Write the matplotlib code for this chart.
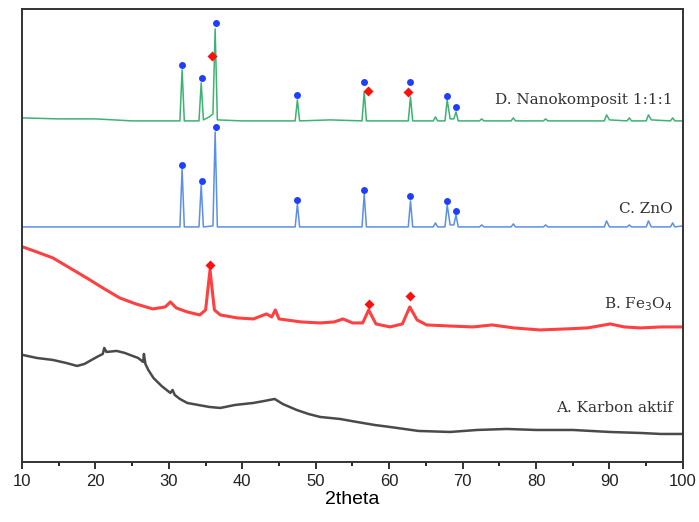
import matplotlib.pyplot as plt

# 2theta / stacked intensity (a.u., offsets included)
a_x = [10.1, 12, 14.2, 16, 17.5, 18.5, 20.2, 21.0, 21.2, 21.5, 22.9, 24, 24.7, 25.8, 26.5, 26.6, 26.8,
       27.2, 27.9, 29, 30.2, 30.5, 30.8, 31.5, 32.5, 34, 35.5, 37, 39, 41.5, 43, 44.4, 45.5,
       47.4, 49, 50.6, 53.3, 55.6, 58, 60.1, 64, 68.3, 72, 76, 80, 85, 90, 94.2, 97, 100]
a_y = [107, 104, 102, 99, 96, 98, 105, 108, 114, 110, 111, 109, 107, 104, 100, 108, 98,
       92, 84, 76, 69, 72, 67, 63, 59, 57, 55, 54, 57, 59, 61, 63, 58,
       52, 48, 45, 43, 40, 37, 35, 31, 30, 32, 33, 32, 32, 30, 29, 28, 28]

b_x = [10.1, 12, 14.2, 16.5, 18.8, 21, 23.3, 25.5, 27.8, 29.5, 30.2, 31, 32.5, 34.2, 35.0, 35.6,
       36.2, 37, 39.3, 41.5, 43.3, 44.0, 44.5, 45, 46, 48, 50.6, 52.5, 53.7, 55, 56.4, 57.2,
       58.2, 60.1, 61.8, 62.8, 63.8, 65.1, 68, 71.4, 74, 77, 80.5, 84, 87, 90.1, 92, 94.2, 97, 100]
b_y = [215, 210, 204, 194, 184, 174, 164, 158, 153, 155, 160, 154, 150, 147, 152, 192,
       152, 147, 144, 143, 148, 145, 152, 143, 142, 140, 139, 140, 143, 139, 139, 152,
       138, 135, 138, 155, 142, 137, 136, 135, 137, 134, 132, 133, 134, 138, 135, 134, 135, 135]

c_x = [10, 20, 31.5, 31.8, 32.1, 34.1, 34.4, 34.7, 36.0, 36.3, 36.6, 47.2, 47.5, 47.8, 56.3, 56.6,
       56.9, 62.6, 62.9, 63.2, 66.0, 66.3, 66.6, 67.6, 67.9, 68.3, 68.8, 69.1, 69.4, 72.3, 72.6,
       72.9, 76.6, 76.9, 77.2, 81.0, 81.3, 81.6, 89.3, 89.6, 90.0, 92.4, 92.7, 93.0, 95.0, 95.3,
       95.7, 98.3, 98.6, 98.9, 100]
c_y = [235, 235, 235, 293, 235, 235, 277, 235, 236, 330, 235, 235, 258, 235, 235, 268,
       235, 235, 261, 235, 235, 239, 235, 235, 257, 237, 237, 247, 235, 235, 237,
       235, 235, 238, 235, 235, 237, 235, 235, 241, 235, 235, 237, 235, 235, 241,
       235, 235, 239, 235, 236]

d_x = [10, 15, 20, 25, 31.5, 31.8, 32.1, 34.1, 34.4, 34.7, 35.5, 36.0, 36.3, 36.6, 40, 47.2,
       47.5, 47.8, 52, 56.3, 56.6, 56.9, 62.6, 62.9, 63.2, 66.0, 66.3, 66.6, 67.6, 67.9, 68.3,
       68.8, 69.1, 69.4, 72.3, 72.6, 72.9, 76.6, 76.9, 77.2, 81.0, 81.3, 81.6, 89.3, 89.6, 90.0,
       92.4, 92.7, 93.0, 95.0, 95.3, 95.7, 98.3, 98.6, 98.9, 100]
d_y = [344, 343, 343, 341, 341, 392, 341, 341, 379, 342, 345, 348, 433, 342, 341, 341,
       362, 341, 342, 341, 370, 341, 341, 365, 341, 341, 345, 341, 341, 362, 343,
       343, 350, 341, 341, 343, 341, 341, 344, 341, 341, 343, 341, 341, 347, 342,
       341, 344, 341, 341, 347, 342, 341, 344, 341, 341]

# phase markers (ZnO = blue circles, Fe3O4 = red diamonds)
zno_x = [31.75, 34.45, 36.35, 47.5, 56.55, 62.85, 67.85, 69.05,
         31.75, 34.45, 36.35, 47.5, 56.55, 62.85, 67.85, 69.05]
zno_y = [397, 384, 439, 367, 380, 380, 366, 355,
         297, 281, 335, 262, 272, 266, 261, 251]
fe_x = [35.9, 57.1, 62.6, 35.6, 57.2, 62.8]
fe_y = [406, 371, 370, 197, 158, 166]

labels = ['D. Nanokomposit 1:1:1', 'C. ZnO', 'B. Fe$_3$O$_4$', 'A. Karbon aktif']
label_y = [362, 253, 158, 54]

fig = plt.figure(figsize=(6.99, 5.22), dpi=100)
ax = fig.add_axes([0.0315, 0.115, 0.9455, 0.868])

ax.plot(a_x, a_y, color='#4a4a4a', lw=1.8)
ax.plot(b_x, b_y, color='#ff4040', lw=2.2)
ax.plot(c_x, c_y, color='#5b8fe8', lw=1.1)
ax.plot(d_x, d_y, color='#3cb371', lw=1.1)

ax.plot(zno_x, zno_y, 'o', color='#1f3fff', ms=5, mec='none')
ax.plot(fe_x, fe_y, 'D', color='#ff1010', ms=5, mec='none')

for lab, ly in zip(labels, label_y):
    ax.text(98.6, ly, lab, ha='right', va='center', fontsize=11,
            family='DejaVu Serif', color='#333333')

ax.set_xlim(10, 100)
ax.set_ylim(0, 453)
ax.set_xticks(range(10, 101, 10))
ax.set_xticks(range(15, 100, 10), minor=True)
ax.set_yticks([])
ax.tick_params(axis='x', which='major', direction='out', length=5, width=1.3,
               labelsize=12, colors='#222222', pad=4)
ax.tick_params(axis='x', which='minor', direction='out', length=3, width=1.2)
for lab in ax.get_xticklabels():
    lab.set_family('Liberation Sans')
for s in ax.spines.values():
    s.set_linewidth(1.4)
    s.set_color('#333333')
ax.set_xlabel('2theta', fontsize=14, family='Liberation Sans', labelpad=1)

plt.savefig('out.png', dpi=100)
